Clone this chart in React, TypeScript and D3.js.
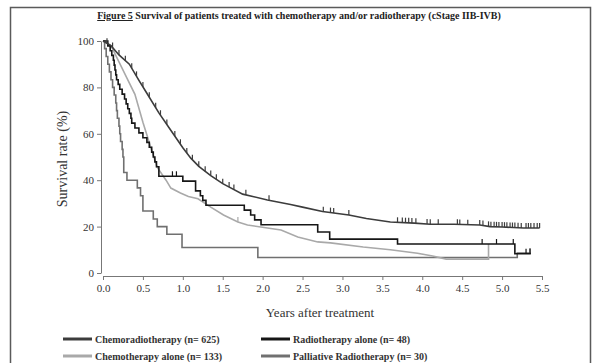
import { useEffect, useRef } from 'react';
import * as d3 from 'd3';

type Pt = [number, number];

// Kaplan-Meier curves: [years, survival %]
const chemoradiotherapy: Pt[] = [
  [0, 100], [0.1, 98], [0.2, 94], [0.33, 90], [0.45, 83], [0.54, 78], [0.7, 69], [0.83, 62.5],
  [1.0, 54], [1.1, 49.5], [1.2, 46], [1.35, 42], [1.5, 38.5], [1.75, 34], [2.06, 31.5], [2.35, 29.5],
  [2.5, 28.4], [2.75, 26.5], [3.08, 25], [3.3, 23.5], [3.6, 22], [3.9, 21.5], [4.1, 21], [4.4, 21],
  [4.72, 20.7], [4.85, 20], [5.0, 19.8], [5.27, 19.4], [5.47, 19.4],
];
const radiotherapyAlone: Pt[] = [
  [0, 100], [0.06, 97.9], [0.09, 95.8], [0.11, 93.8], [0.13, 91.7], [0.14, 89.6], [0.15, 87.5],
  [0.16, 85.4], [0.17, 83.3], [0.19, 81.3], [0.21, 79.2], [0.24, 77.1], [0.27, 75], [0.29, 72.9],
  [0.31, 70.8], [0.33, 68.8], [0.35, 66.7], [0.36, 64.6], [0.4, 62.5], [0.45, 60.4], [0.5, 58.3],
  [0.55, 56.3], [0.58, 54.2], [0.61, 52.1], [0.63, 50], [0.65, 47.9], [0.67, 45.8], [0.7, 41.7],
  [1.0, 39.6], [1.16, 35.4], [1.22, 33.3], [1.25, 31.3], [1.29, 29.2], [1.77, 27.1], [1.85, 25],
  [1.9, 22.9], [1.98, 20.8], [2.69, 17.7], [2.84, 14.6], [3.69, 12.5], [5.16, 8.3], [5.36, 8.3],
];
const chemotherapyAlone: Pt[] = [
  [0, 100], [0.1, 98], [0.2, 91], [0.3, 84], [0.4, 77], [0.5, 65], [0.6, 54], [0.68, 45.5],
  [0.79, 40], [0.85, 36.6], [0.97, 34.5], [1.07, 33], [1.19, 32], [1.35, 28.4], [1.51, 25],
  [1.69, 22], [1.81, 20.7], [2.06, 19.4], [2.23, 18.5], [2.44, 15.5], [2.69, 13.4], [2.85, 13],
  [3.26, 11.2], [3.6, 10], [3.94, 8.5], [4.13, 7.3], [4.3, 6], [4.83, 6], [4.83, 12.5],
];
const palliativeRadiotherapy: Pt[] = [
  [0, 100], [0.02, 96.7], [0.04, 93.3], [0.06, 90], [0.08, 86.7], [0.1, 83.3], [0.12, 80],
  [0.14, 76.7], [0.16, 73.3], [0.17, 70], [0.18, 66.7], [0.2, 63.3], [0.21, 60], [0.22, 56.7],
  [0.24, 53.3], [0.25, 50], [0.26, 43.3], [0.3, 40], [0.43, 36.7], [0.47, 33.3], [0.5, 26.7],
  [0.63, 23.3], [0.68, 20], [0.8, 16.7], [0.99, 11], [1.94, 6.7], [5.19, 8.6], [5.36, 8.6],
];

// censored observations (years)
const censorChemorad = [
  0.05, 0.12, 0.2, 0.28, 0.36, 0.42, 0.5, 0.58, 0.66, 0.72, 0.8, 0.9, 0.97, 1.05, 1.12, 1.2, 1.28,
  1.35, 1.42, 1.5, 1.58, 1.64, 1.79, 2.08, 2.76, 2.85, 2.89, 3.08, 3.69, 3.75, 3.79, 3.83, 3.87,
  3.92, 4.06, 4.1, 4.2, 4.44, 4.47, 4.57, 4.72, 4.76, 4.83, 4.86, 4.9, 4.93, 4.96, 5.0, 5.03, 5.06,
  5.1, 5.13, 5.16, 5.2, 5.24, 5.3, 5.33, 5.36, 5.4, 5.44, 5.47,
];
const censorRadio = [0.87, 0.92, 4.75, 4.93, 5.14, 5.3, 5.35];
const censorChemo = [1.69];
const censorPalliative = [5.35];

const xTicks = [0, 0.5, 1, 1.5, 2, 2.5, 3, 3.5, 4, 4.5, 5, 5.5];
const yTicks = [0, 20, 40, 60, 80, 100];

const series = [
  { name: 'Chemoradiotherapy (n= 625)', data: chemoradiotherapy, censor: censorChemorad, color: '#3c3c3c', step: false },
  { name: 'Radiotherapy alone (n= 48)', data: radiotherapyAlone, censor: censorRadio, color: '#161616', step: true },
  { name: 'Chemotherapy alone (n= 133)', data: chemotherapyAlone, censor: censorChemo, color: '#a9a9a9', step: false },
  { name: 'Palliative Radiotherapy (n= 30)', data: palliativeRadiotherapy, censor: censorPalliative, color: '#707070', step: true },
];

const serif = '"Liberation Serif", "DejaVu Serif", serif';

export default function App() {
  const ref = useRef<SVGSVGElement | null>(null);
  useEffect(() => {
    const svg = d3.select(ref.current!);
    svg.selectAll('*').remove();
    const W = 598, H = 363;
    svg.append('rect').attr('width', W).attr('height', H).attr('fill', '#fff');
    // figure frame
    svg.append('path').attr('d', `M10.5,${H} V7.5 H590.5 V${H}`).attr('fill', 'none').attr('stroke', '#5a5a5a').attr('stroke-width', 1.5);

    const x = d3.scaleLinear().domain([0, 5.5]).range([103, 542]);
    const y = d3.scaleLinear().domain([0, 100]).range([273, 41]);

    // title
    const title = svg.append('text').attr('x', 299).attr('y', 19).attr('text-anchor', 'middle')
      .attr('font-family', serif).attr('font-weight', 'bold').attr('font-size', 10).attr('fill', '#222');
    title.append('tspan').attr('text-decoration', 'underline').text('Figure 5');
    title.append('tspan').text(' Survival of patients treated with chemotherapy and/or radiotherapy (cStage IIB-IVB)');

    // axes
    const ya = svg.append('g').attr('transform', 'translate(101,0)')
      .call(d3.axisLeft(y).tickValues(yTicks).tickSize(4).tickSizeOuter(0).tickPadding(3))
      .attr('font-family', serif);
    ya.select('.domain').attr('stroke', '#777');
    ya.selectAll('line').attr('stroke', '#777');
    ya.selectAll('text').attr('font-size', 11).attr('fill', '#333').attr('font-family', serif);

    const xa = svg.append('g').attr('transform', 'translate(0,276)')
      .call(d3.axisBottom(x).tickValues(xTicks).tickSize(4).tickSizeOuter(0).tickPadding(4).tickFormat(d3.format('.1f')))
      .attr('font-family', serif);
    xa.select('.domain').attr('stroke', '#777');
    xa.selectAll('line').attr('stroke', '#777');
    xa.selectAll('text').attr('font-size', 11).attr('fill', '#333').attr('font-family', serif);

    svg.append('text').attr('transform', 'translate(67,159) rotate(-90)').attr('text-anchor', 'middle')
      .attr('font-family', serif).attr('font-size', 14).attr('fill', '#333').text('Survival rate (%)');
    svg.append('text').attr('x', 320).attr('y', 317).attr('text-anchor', 'middle')
      .attr('font-family', serif).attr('font-size', 13).attr('fill', '#333').text('Years after treatment');

    // curves, drawn back to front
    const order = [3, 2, 1, 0];
    order.forEach((i) => {
      const s = series[i];
      const line = d3.line<Pt>().x((d) => x(d[0])).y((d) => y(d[1]))
        .curve(s.step ? d3.curveStepAfter : d3.curveLinear);
      svg.append('path').datum(s.data).attr('d', line).attr('fill', 'none')
        .attr('stroke', s.color).attr('stroke-width', 1.6).attr('stroke-linejoin', 'miter');
      const at = (t: number) => {
        if (s.step) {
          let v = s.data[0][1];
          for (const p of s.data) if (p[0] <= t) v = p[1];
          return v;
        }
        const k = d3.bisector((p: Pt) => p[0]).left(s.data, t);
        if (k <= 0) return s.data[0][1];
        if (k >= s.data.length) return s.data[s.data.length - 1][1];
        const a = s.data[k - 1], b = s.data[k];
        return a[1] + (b[1] - a[1]) * (t - a[0]) / (b[0] - a[0] || 1);
      };
      svg.append('g').selectAll('line').data(s.censor).enter().append('line')
        .attr('x1', (t) => x(t)).attr('x2', (t) => x(t))
        .attr('y1', (t) => y(at(t))).attr('y2', (t) => y(at(t)) - 5)
        .attr('stroke', s.color).attr('stroke-width', 1.2);
    });

    // legend
    const leg = [
      { s: series[0], lx: 63, ly: 339 },
      { s: series[1], lx: 261, ly: 339 },
      { s: series[2], lx: 63, ly: 356 },
      { s: series[3], lx: 261, ly: 356 },
    ];
    leg.forEach(({ s, lx, ly }) => {
      svg.append('line').attr('x1', lx).attr('x2', lx + 29).attr('y1', ly).attr('y2', ly)
        .attr('stroke', s.color).attr('stroke-width', 3);
      svg.append('text').attr('x', lx + 32).attr('y', ly + 3.5).attr('font-family', serif)
        .attr('font-weight', 'bold').attr('font-size', 10).attr('fill', '#333').text(s.name);
    });
  }, []);
  return <svg ref={ref} width={598} height={363} style={{ position: 'fixed', left: 0, top: 0 }} />;
}
